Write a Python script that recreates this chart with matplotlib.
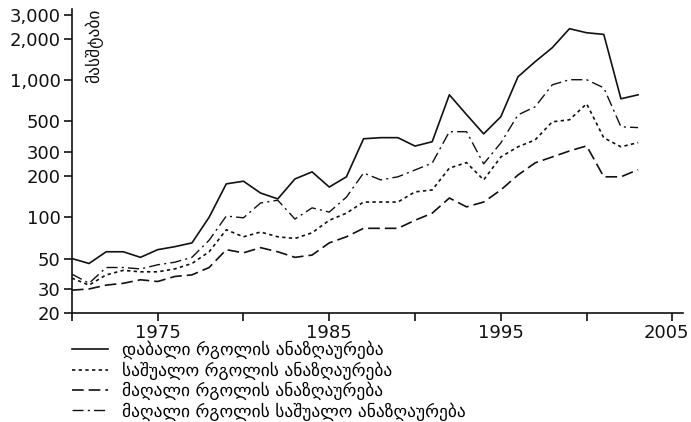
import matplotlib
matplotlib.use('Agg')
import matplotlib.pyplot as plt
import matplotlib.transforms as mtransforms
from matplotlib.ticker import FuncFormatter, NullFormatter, NullLocator

plt.rcParams['font.family'] = ['DejaVu Sans']

years = list(range(1970, 2004))

# low tier pay
low = [50, 46, 56, 56, 51, 58, 61, 65, 100, 175, 183, 150, 136, 190, 214, 166,
       197, 373, 380, 380, 330, 355, 780, 560, 405, 540, 1056, 1360, 1720, 2366,
       2210, 2150, 730, 780]
# middle tier pay
mid = [36, 32, 38, 41, 40, 40, 42, 46, 56, 81, 72, 78, 72, 70, 77, 95,
       107, 129, 129, 129, 153, 158, 228, 250, 187, 275, 326, 366, 496, 513,
       671, 379, 326, 350]
# high tier pay
high = [29.4, 30, 32, 33, 35, 34, 37, 38, 43, 58, 55, 60, 56, 51, 53, 65,
        72, 83, 83, 83, 95, 107, 138, 119, 129, 158, 203, 249, 275, 304,
        331, 197, 197, 222]
# high tier average pay
high_avg = [38.5, 33, 43, 43, 42, 45, 47, 51, 68, 102, 99, 127, 133, 97, 117, 109,
            140, 210, 187, 197, 221, 248, 420, 420, 245, 348, 557, 638, 923, 1005,
            1005, 877, 456, 450]

labels = ['დაბალი რგოლის ანაზღაურება',
          'საშუალო რგოლის ანაზღაურება',
          'მაღალი რგოლის ანაზღაურება',
          'მაღალი რგოლის საშუალო ანაზღაურება']

yticks = [20, 30, 50, 100, 200, 300, 500, 1000, 2000, 3000]
xticks = [1970, 1975, 1980, 1985, 1990, 1995, 2000, 2005]
xlabels = ['', '1975', '', '1985', '', '1995', '', '2005']

fig = plt.figure(figsize=(6.91, 4.22), dpi=100)
ax = fig.add_axes([0.104, 0.258, 0.884, 0.721])

c = '#111111'
ax.plot(years, low, color=c, lw=1.2, ls='-', label=labels[0])
ax.plot(years, mid, color=c, lw=1.2, ls=(0, (2, 2)), label=labels[1])
ax.plot(years, high, color=c, lw=1.2, ls=(0, (7, 3)), label=labels[2])
ax.plot(years, high_avg, color=c, lw=1.0, ls=(0, (8, 3, 1.5, 3)), label=labels[3])

ax.set_yscale('log')
ax.set_ylim(20, 3300)
ax.set_xlim(1970, 2005.6)
ax.set_yticks(yticks)
ax.yaxis.set_major_formatter(FuncFormatter(lambda v, p: '{:,}'.format(int(v))))
ax.yaxis.set_minor_formatter(NullFormatter())
ax.yaxis.set_minor_locator(NullLocator())
ax.set_xticks(xticks)
ax.set_xticklabels(xlabels)

for s in ['top', 'right']:
    ax.spines[s].set_visible(False)
for s in ['left', 'bottom']:
    ax.spines[s].set_linewidth(1.2)
    ax.spines[s].set_color(c)
ax.tick_params(axis='both', labelsize=13, colors=c, length=6, width=1.2, pad=2)

# nudge the last year label left so it stays inside the figure
last = ax.get_xticklabels()[-1]
last.set_transform(last.get_transform() +
                   mtransforms.ScaledTranslation(-6 / 100, 0, fig.dpi_scale_trans))

ax.text(0.021, 1.0, 'მასშტაბი', transform=ax.transAxes, rotation=90,
        ha='left', va='top', fontsize=12.5, color=c)

fig.legend(loc='upper left', bbox_to_anchor=(0.104, 0.193), frameon=False,
           fontsize=12.5, handlelength=2.1, handletextpad=0.8, labelspacing=0.12,
           borderaxespad=0, borderpad=0)

fig.savefig('out.png', dpi=100)
